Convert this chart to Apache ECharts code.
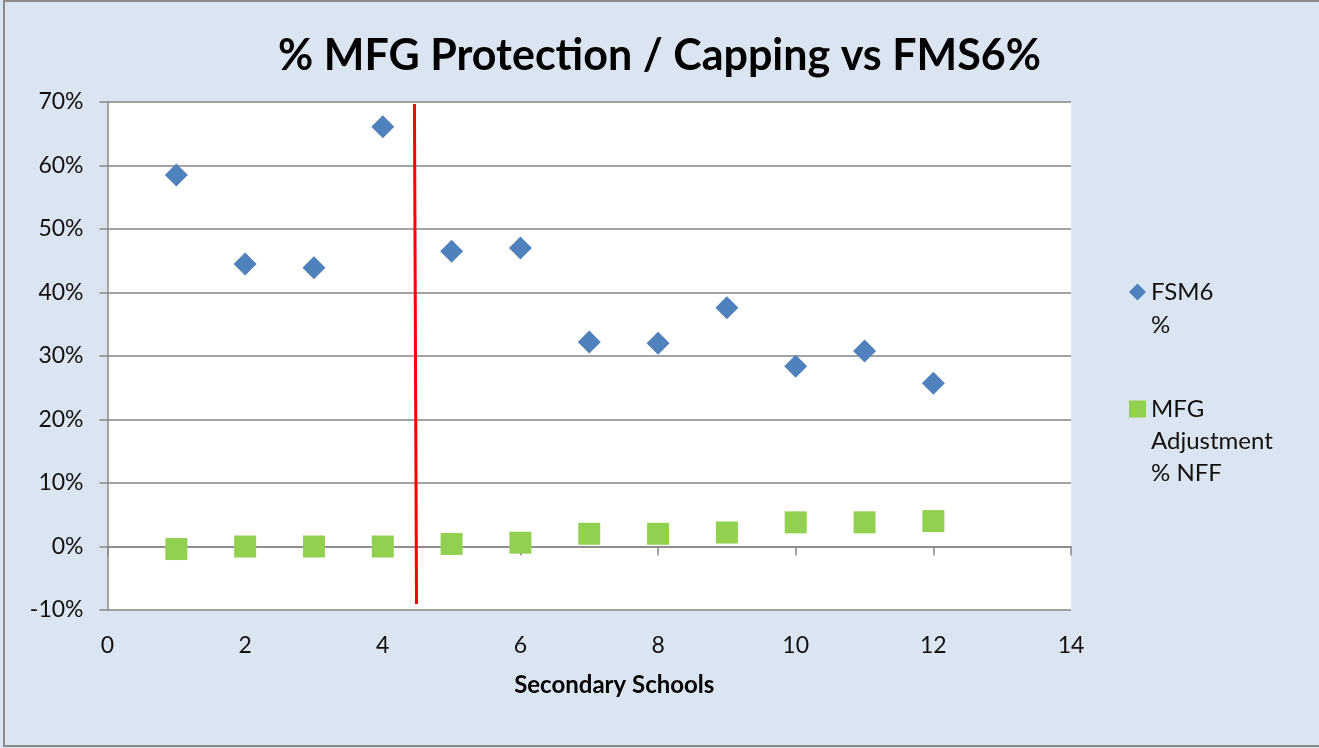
<!DOCTYPE html>
<html>
<head>
<meta charset="utf-8">
<script src="https://cdn.jsdelivr.net/npm/echarts@6/dist/echarts.min.js"></script>
<style>
html,body{margin:0;padding:0;background:#DBE5F1;}
#c{width:1319px;height:748px;}
</style>
</head>
<body>
<div id="c"></div>
<script>
// Data
var schools = [1, 2, 3, 4, 5, 6, 7, 8, 9, 10, 11, 12];
var fsm6Pct = [58.5, 44.5, 43.9, 66.1, 46.5, 47.0, 32.2, 32.0, 37.6, 28.4, 30.8, 25.7];
var mfgAdjPct = [-0.4, 0.0, 0.0, 0.0, 0.4, 0.6, 2.0, 2.0, 2.2, 3.8, 3.8, 4.0];
var dividerX = [4.46, 4.49];
var dividerY = [69.7, -9.05];
var seriesNames = ['FSM6\n%', 'MFG\nAdjustment\n% NFF'];
var titleText = '% MFG Protection / Capping vs FMS6%';
var xAxisName = 'Secondary Schools';

function pairs(xs, ys){ return xs.map(function(x, i){ return [x, ys[i]]; }); }
// put the legend icon level with the first text line
function firstLineAligned(name){
  var n = name.split('\n').length;
  return new Array(n).join('\n') + name;
}

var FONT = 'Lato';
var chart = echarts.init(document.getElementById('c'));
chart.setOption({
  backgroundColor: '#DBE5F1',
  animation: false,
  title: {
    text: titleText,
    left: 'center',
    top: 30,
    textStyle: {fontFamily: FONT, fontWeight: 'bold', fontSize: 43, color: '#000'}
  },
  grid: {
    left: 107.5, top: 102, width: 963.5, height: 508,
    show: true, backgroundColor: '#ffffff', borderWidth: 0
  },
  legend: [
    {
      orient: 'vertical', left: 1129, top: 292 - 49.5, padding: 0,
      itemWidth: 17, itemHeight: 17, itemGap: 0, itemStyle: {opacity: 1},
      data: [{name: seriesNames[0], icon: 'diamond'}],
      formatter: firstLineAligned,
      textStyle: {fontFamily: FONT, fontSize: 24, color: '#111', lineHeight: 33}
    },
    {
      orient: 'vertical', left: 1129, top: 409 - 80, padding: 0,
      itemWidth: 17, itemHeight: 17, itemGap: 0, itemStyle: {opacity: 1},
      data: [{name: seriesNames[1], icon: 'rect'}],
      formatter: firstLineAligned,
      textStyle: {fontFamily: FONT, fontSize: 24, color: '#111', lineHeight: 32}
    }
  ],
  xAxis: [
    {
      type: 'value', min: 0, max: 14, interval: 2, position: 'bottom',
      axisLine: {show: true, onZero: true, lineStyle: {color: '#868686', width: 1.5}},
      axisTick: {show: true, length: 9, lineStyle: {color: '#868686', width: 1.5}},
      axisLabel: {show: false},
      splitLine: {show: false}
    },
    {
      type: 'value', min: 0, max: 14, interval: 2, position: 'bottom',
      axisLine: {show: false, onZero: false},
      axisTick: {show: false},
      axisLabel: {show: true, margin: 24, fontFamily: FONT, fontSize: 23, color: '#111'},
      splitLine: {show: false},
      name: xAxisName, nameLocation: 'middle', nameGap: 63,
      nameTextStyle: {fontFamily: FONT, fontWeight: 'bold', fontSize: 24, color: '#000', padding: [0, 0, 0, 50]}
    }
  ],
  yAxis: {
    type: 'value', min: -10, max: 70, interval: 10,
    axisLine: {show: true, lineStyle: {color: '#868686', width: 1.5}},
    axisTick: {show: true, length: 8, lineStyle: {color: '#868686', width: 1.5}},
    axisLabel: {margin: 24, fontFamily: FONT, fontSize: 23, color: '#111', formatter: '{value}%'},
    splitLine: {show: true, lineStyle: {color: '#868686', width: 1.5}}
  },
  graphic: [{
    type: 'rect', silent: true, z: 100,
    shape: {x: 4, y: 1, width: 1320, height: 745},
    style: {fill: 'none', stroke: '#8a8a8a', lineWidth: 2}
  }],
  series: [
    {
      name: seriesNames[0], type: 'scatter', xAxisIndex: 0,
      symbol: 'diamond', symbolSize: 23,
      itemStyle: {color: '#4F81BD', opacity: 1},
      data: pairs(schools, fsm6Pct)
    },
    {
      name: seriesNames[1], type: 'scatter', xAxisIndex: 0,
      symbol: 'rect', symbolSize: 22,
      itemStyle: {color: '#92D050', opacity: 1},
      data: pairs(schools, mfgAdjPct)
    },
    {
      name: 'divider', type: 'line', xAxisIndex: 0,
      symbol: 'none', silent: true,
      lineStyle: {color: '#FF0000', width: 3},
      data: pairs(dividerX, dividerY)
    }
  ]
});
</script>
</body>
</html>
